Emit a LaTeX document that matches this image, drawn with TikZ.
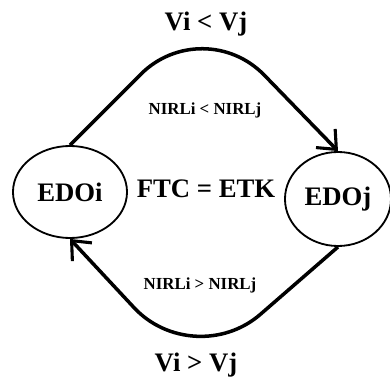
\documentclass[tikz,border=0pt]{standalone}
\usepackage{fontspec}
\setmainfont{Liberation Serif}
\usetikzlibrary{shapes.geometric,arrows.meta}
\begin{document}
\begin{tikzpicture}[x=0.025cm, y=-0.025cm,
        state/.style={ellipse, draw, line width=1.3pt, inner sep=0pt, font=\bfseries\fontsize{19}{22}\selectfont},
        big/.style={font=\bfseries\fontsize{19}{22}\selectfont},
        small/.style={font=\bfseries\fontsize{12}{14}\selectfont},
        flow/.style={line width=2.5pt, rounded corners=2.2cm, -{Straight Barb[length=11pt, width=19pt, line width=2.2pt]}}]
    \useasboundingbox (0,0) rectangle (390,388);
    \node[state, minimum width=2.85cm, minimum height=2.3cm] (edoi) at (70,192) {EDOi};
    \node[state, minimum width=2.65cm, minimum height=2.35cm] (edoj) at (338,199) {EDOj};
    \node[big] (ftc) at (206,189) {FTC = ETK};
    \node[big] (up) at (206,24) {Vi < Vj};
    \node[big] (down) at (196,365) {Vi > Vj};
    \node[small] (nup) at (205,110) {NIRLi < NIRLj};
    \node[small] (ndown) at (200,285) {NIRLi > NIRLj};
    \coordinate (peak) at (203,12);
    \coordinate (dip) at (194,372);
    \draw[flow] (edoi.north) -- (peak) -- (edoj.north);
    \draw[flow] (edoj.south) -- (dip) -- (edoi.south);
\end{tikzpicture}
\end{document}
